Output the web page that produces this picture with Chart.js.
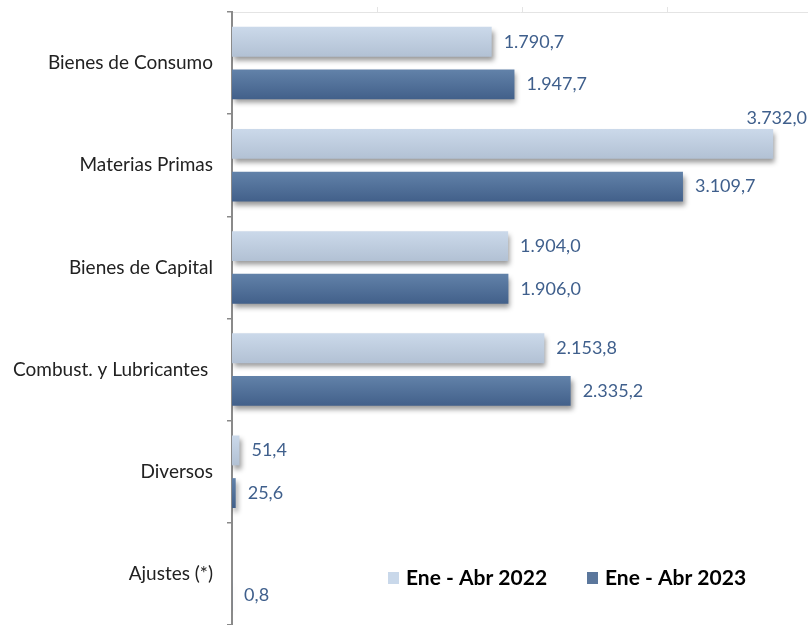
<!DOCTYPE html>
<html>
<head>
<meta charset="utf-8">
<script src="https://cdn.jsdelivr.net/npm/chart.js@4"></script>
<style>
  html, body { margin: 0; padding: 0; background: #ffffff; }
  #wrap { width: 808px; height: 625px; position: relative; }
</style>
</head>
<body>
<div id="wrap"><canvas id="importChart" width="808" height="625"></canvas></div>
<script>
// data
const categories = ['Bienes de Consumo', 'Materias Primas', 'Bienes de Capital', 'Combust. y Lubricantes ', 'Diversos', 'Ajustes (*)'];
const values2022 = [1790.7, 3732.0, 1904.0, 2153.8, 51.4, null];
const values2023 = [1947.7, 3109.7, 1906.0, 2335.2, 25.6, 0.8];
const seriesLabels = ['Ene - Abr 2022', 'Ene - Abr 2023'];
const xTicks = [1000, 2000, 3000];

const catPct = 0.835;
const barPct = 0.70;
const labelColor = '#3f5f8c';
const fontFamily = "Lato, 'Open Sans', sans-serif";

function fmt(v) {
    const parts = v.toFixed(1).split('.');
    return parts[0].replace(/\B(?=(\d{3})+(?!\d))/g, '.') + ',' + parts[1];
}

// vertical gradient per bar, computed from the category scale
function barFill(light, dark) {
    return function(ctx) {
        const chart = ctx.chart;
        const y = chart.scales && chart.scales.y;
        if (ctx.type !== 'data' || !y || !chart.chartArea) return light;
        const cat = y.getPixelForValue(ctx.dataIndex);
        const size = Math.abs(y.getPixelForValue(1) - y.getPixelForValue(0));
        const slot = size * catPct / 2;
        const center = cat + (ctx.datasetIndex === 0 ? -slot / 2 : slot / 2);
        const h = slot * barPct / 2;
        const g = chart.ctx.createLinearGradient(0, center - h, 0, center + h);
        g.addColorStop(0, light);
        g.addColorStop(1, dark);
        return g;
    };
}

const shadowPlugin = {
    id: 'barShadow',
    beforeDatasetsDraw(chart) {
        const ctx = chart.ctx;
        ctx.save();
        ctx.shadowColor = 'rgba(0, 0, 0, 0.4)';
        ctx.shadowBlur = 5;
        ctx.shadowOffsetX = 2;
        ctx.shadowOffsetY = 4;
    },
    afterDatasetsDraw(chart) {
        chart.ctx.restore();
    }
};

const valueLabels = {
    id: 'valueLabels',
    afterDatasetsDraw(chart) {
        const ctx = chart.ctx;
        ctx.save();
        ctx.font = '18px ' + fontFamily;
        ctx.fillStyle = labelColor;
        ctx.textBaseline = 'middle';
        chart.data.datasets.forEach((ds, di) => {
            const meta = chart.getDatasetMeta(di);
            meta.data.forEach((bar, i) => {
                const v = ds.data[i];
                if (v === null || v === undefined) return;
                const text = fmt(v);
                const w = ctx.measureText(text).width;
                let x = bar.x + 12;
                let y = bar.y;
                if (x + w > chart.width - 2) {
                    // no room on the right: sit above the bar at the edge
                    x = chart.width - 1 - w;
                    y = bar.y - bar.height / 2 - 11;
                }
                ctx.textAlign = 'left';
                ctx.fillText(text, x, y);
            });
        });
        ctx.restore();
    }
};

const legendSwatches = ['#c9d8ea', '#5b779c'];
const customLegend = {
    id: 'customLegend',
    afterDraw(chart) {
        const ctx = chart.ctx;
        const area = chart.chartArea;
        ctx.save();
        ctx.font = 'bold 21px ' + fontFamily;
        ctx.textBaseline = 'middle';
        const yMid = area.bottom - 47;
        let x = area.left + 156;
        chart.data.datasets.forEach((ds, i) => {
            ctx.fillStyle = legendSwatches[i];
            ctx.fillRect(x, yMid - 6, 11, 12);
            ctx.fillStyle = '#000';
            ctx.fillText(ds.label, x + 18, yMid);
            x += 199;
        });
        ctx.restore();
    }
};

const ctx = document.getElementById('importChart').getContext('2d');
new Chart(ctx, {
    type: 'bar',
    data: {
        labels: categories,
        datasets: [{
            label: seriesLabels[0],
            data: values2022,
            backgroundColor: barFill('#cbd9ea', '#b2c1d4'),
            borderWidth: 0,
            categoryPercentage: catPct,
            barPercentage: barPct
        }, {
            label: seriesLabels[1],
            data: values2023,
            backgroundColor: barFill('#6282a9', '#42608a'),
            borderWidth: 0,
            categoryPercentage: catPct,
            barPercentage: barPct
        }]
    },
    options: {
        indexAxis: 'y',
        responsive: false,
        animation: false,
        events: [],
        layout: { padding: 0 },
        plugins: {
            legend: { display: false },
            tooltip: { enabled: false }
        },
        scales: {
            x: {
                position: 'top',
                min: 0,
                max: 3972,
                afterBuildTicks: axis => {
                    axis.ticks = xTicks.map(v => ({ value: v }));
                },
                afterFit: axis => {
                    axis.height = 12;
                    axis.paddingLeft = 0;
                    axis.paddingRight = 0;
                },
                ticks: { display: false },
                grid: { drawOnChartArea: false, tickLength: 5, color: '#e4e4e4' },
                border: { display: true, color: '#e4e4e4', width: 1 }
            },
            y: {
                afterFit: axis => {
                    axis.width = 232;
                    axis.paddingTop = 0;
                    axis.paddingBottom = 0;
                },
                ticks: {
                    color: '#222',
                    padding: 14,
                    font: { size: 19, family: fontFamily }
                },
                grid: { drawOnChartArea: false, tickLength: 5, color: '#8a8a8a', lineWidth: 1.5 },
                border: { display: true, color: '#8a8a8a', width: 2 }
            }
        }
    },
    plugins: [shadowPlugin, valueLabels, customLegend]
});
</script>
</body>
</html>
